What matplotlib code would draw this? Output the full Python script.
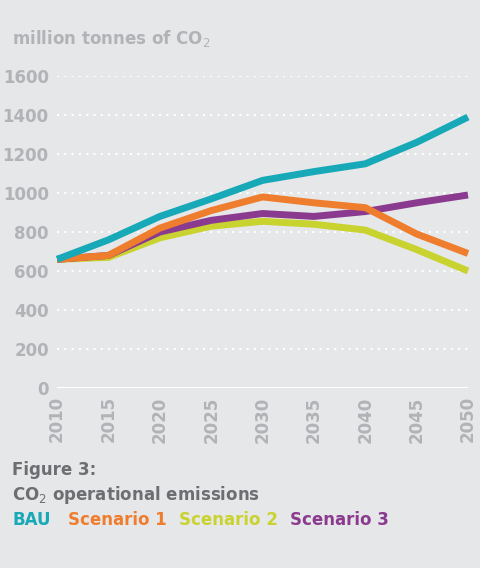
import matplotlib
matplotlib.use("Agg")
import matplotlib.pyplot as plt

years = [2010, 2015, 2020, 2025, 2030, 2035, 2040, 2045, 2050]
bau = [660, 760, 880, 970, 1065, 1110, 1150, 1260, 1390]
s1 = [660, 680, 820, 910, 980, 950, 925, 790, 690]
s2 = [660, 670, 770, 830, 855, 840, 810, 710, 600]
s3 = [660, 680, 800, 860, 895, 880, 905, 950, 990]
yticks = [0, 200, 400, 600, 800, 1000, 1200, 1400, 1600]

bg = "#e6e7e8"
tick_c = "#b1b3b6"
cols = {"BAU": "#17a9b7", "Scenario 1": "#ef7d2e", "Scenario 2": "#c9d32f", "Scenario 3": "#8a3b8f"}

fig = plt.figure(figsize=(4.8, 5.68), dpi=100, facecolor=bg)
ax = fig.add_axes([0.119, 0.317, 0.856, 0.549], facecolor=bg)
for y in yticks[1:]:
    ax.axhline(y, color="white", lw=1.5, ls=(0, (1, 2.5)), zorder=1)
ax.axhline(0, color="white", lw=1.5, zorder=1)
for name, vals in [("Scenario 2", s2), ("Scenario 3", s3), ("Scenario 1", s1), ("BAU", bau)]:
    ax.plot(years, vals, color=cols[name], lw=5, solid_capstyle="butt", zorder=3, clip_on=False)
ax.set_xlim(2010, 2050)
ax.set_ylim(0, 1600)
ax.set_yticks(yticks)
ax.set_xticks(years)
ax.set_xticklabels([str(y) for y in years], rotation=90)
ax.tick_params(length=0, colors=tick_c, labelsize=12, pad=6)
for lab in ax.get_xticklabels() + ax.get_yticklabels():
    lab.set_fontweight("bold")
for s in ax.spines.values():
    s.set_visible(False)

fig.text(0.025, 0.932, "million tonnes of CO$_2$", color=tick_c, fontsize=12, fontweight="bold", va="center")
fig.text(0.025, 0.172, "Figure 3:", color="#6d6e71", fontsize=12, fontweight="bold", va="center")
fig.text(0.025, 0.128, "CO$_2$ operational emissions", color="#6d6e71", fontsize=12, fontweight="bold", va="center")
xs = [0.025, 0.142, 0.373, 0.604]
for x, name in zip(xs, cols):
    fig.text(x, 0.084, name, color=cols[name], fontsize=12, fontweight="bold", va="center")

fig.savefig("out.png", dpi=100, facecolor=bg)
